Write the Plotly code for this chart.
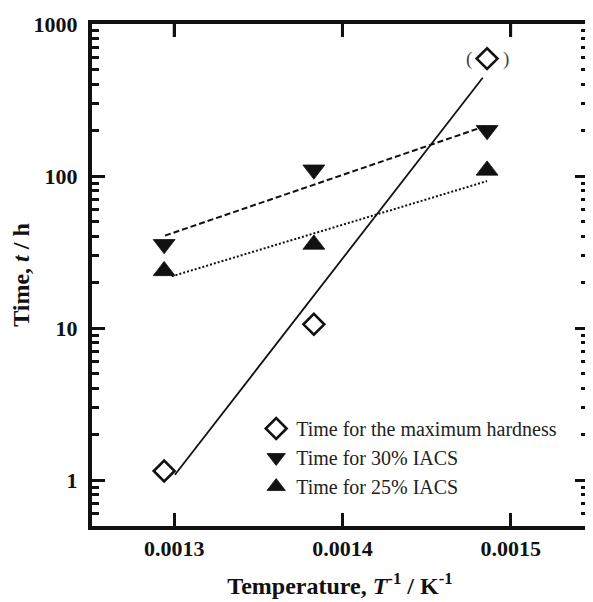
import numpy as np
import plotly.graph_objects as go

# ---- data ----
inv_T = [0.001294, 0.001383, 0.001486]          # 1/T, K^-1
t_max_hardness = [1.15, 10.6, 592]              # h
t_30_iacs = [35.6, 110, 200]                    # h
t_25_iacs = [23.8, 35.5, 109]                   # h

# fitted lines (end points)
fit_max_x = [0.0013004, 0.0014834]
fit_max_y = [1.086, 443]
fit_30_x = [0.0012945, 0.001486]
fit_30_y = [40.6, 215]
fit_25_x = [0.0012985, 0.001486]
fit_25_y = [21.9, 92.7]

x_ticks = [0.0013, 0.0014, 0.0015]
x_tick_labels = ["0.0013", "0.0014", "0.0015"]
y_ticks = [1, 10, 100, 1000]
y_tick_labels = ["1", "10", "100", "1000"]
y_minor_ticks = [0.5, 0.6, 0.7, 0.8, 0.9,
                 2, 3, 4, 5, 6, 7, 8, 9,
                 20, 30, 40, 50, 60, 70, 80, 90,
                 200, 300, 400, 500, 600, 700, 800, 900]

legend_names = ["Time for the maximum hardness", "Time for 30% IACS", "Time for 25% IACS"]

X_RANGE = [0.0012511, 0.001546]
PLOT_H = 502          # plot-area height in px
TICK_LEN = 13

INK = "#111111"
SERIF = "Liberation Serif, Times New Roman, serif"

fig = go.Figure()

# fit lines
fig.add_trace(go.Scatter(x=fit_max_x, y=fit_max_y, mode="lines",
                         line=dict(color=INK, width=1.8), showlegend=False, hoverinfo="skip"))
fig.add_trace(go.Scatter(x=fit_30_x, y=fit_30_y, mode="lines",
                         line=dict(color=INK, width=2, dash="6px,3px"), showlegend=False, hoverinfo="skip"))
fig.add_trace(go.Scatter(x=fit_25_x, y=fit_25_y, mode="lines",
                         line=dict(color=INK, width=2, dash="2px,2px"), showlegend=False, hoverinfo="skip"))

# markers
fig.add_trace(go.Scatter(x=inv_T, y=t_max_hardness, mode="markers", name=legend_names[0],
                         marker=dict(symbol="diamond-open", size=16, color=INK, line=dict(width=2.6, color=INK))))
fig.add_trace(go.Scatter(x=inv_T, y=t_30_iacs, mode="markers", name=legend_names[1],
                         marker=dict(symbol="triangle-down", size=19, color=INK, line=dict(width=0.8, color=INK))))
fig.add_trace(go.Scatter(x=inv_T, y=t_25_iacs, mode="markers", name=legend_names[2],
                         marker=dict(symbol="triangle-up", size=19, color=INK, line=dict(width=0.8, color=INK))))

# parentheses around the last "maximum hardness" point
for txt, shift in (("(", -18), (")", 19)):
    fig.add_annotation(x=inv_T[2], y=np.log10(t_max_hardness[2]), xref="x", yref="y",
                       text=txt, showarrow=False, xshift=shift,
                       font=dict(family=SERIF, size=19, color="#444444"))

# ticks along the top edge of the frame, at the x tick values
for v in x_ticks:
    fig.add_shape(type="line", xref="x", yref="paper", x0=v, x1=v,
                  y0=1, y1=1 - TICK_LEN / PLOT_H, line=dict(color=INK, width=3), layer="above")

# the page body has an 8px margin: size the figure so the visible page matches 593x602
fig.update_layout(
    width=585, height=594,
    margin=dict(l=84, r=5, t=16, b=76, autoexpand=False),
    paper_bgcolor="white", plot_bgcolor="white",
    showlegend=True,
    legend=dict(x=0.331, y=0.233, xanchor="left", yanchor="top",
                font=dict(family=SERIF, size=20, color="#222222"),
                bgcolor="rgba(0,0,0,0)", tracegroupgap=0, itemwidth=30),
    font=dict(family=SERIF, color=INK),
)

fig.update_layout(
    xaxis=dict(
        type="linear", range=X_RANGE, automargin=False,
        tickmode="array", tickvals=x_ticks, ticktext=x_tick_labels,
        ticks="inside", ticklen=TICK_LEN, tickwidth=3, tickcolor=INK, mirror="ticks",
        showline=True, linewidth=4, linecolor=INK, showgrid=False, zeroline=False,
        tickfont=dict(family=SERIF, size=22, color=INK, weight="bold"),
        title=dict(text="Temperature, <i>T</i><sup>-1</sup> / K<sup>-1</sup>",
                   font=dict(family=SERIF, size=24, color=INK, weight="bold"), standoff=18),
    ),
    yaxis=dict(
        type="log", range=[np.log10(0.5), 3], automargin=False,
        tickmode="array", tickvals=y_ticks, ticktext=y_tick_labels,
        ticks="inside", ticklen=TICK_LEN, tickwidth=3, tickcolor=INK, mirror="ticks",
        ticklabelstandoff=6,
        minor=dict(tickmode="array", tickvals=y_minor_ticks,
                   ticks="inside", ticklen=7, tickwidth=3, tickcolor=INK, showgrid=False),
        showline=True, linewidth=4, linecolor=INK, showgrid=False, zeroline=False,
        tickfont=dict(family=SERIF, size=22, color=INK, weight="bold"),
        title=dict(text="Time, <i>t</i> / h",
                   font=dict(family=SERIF, size=24, color=INK, weight="bold"), standoff=14),
    ),
)

fig.write_html("out.html")
